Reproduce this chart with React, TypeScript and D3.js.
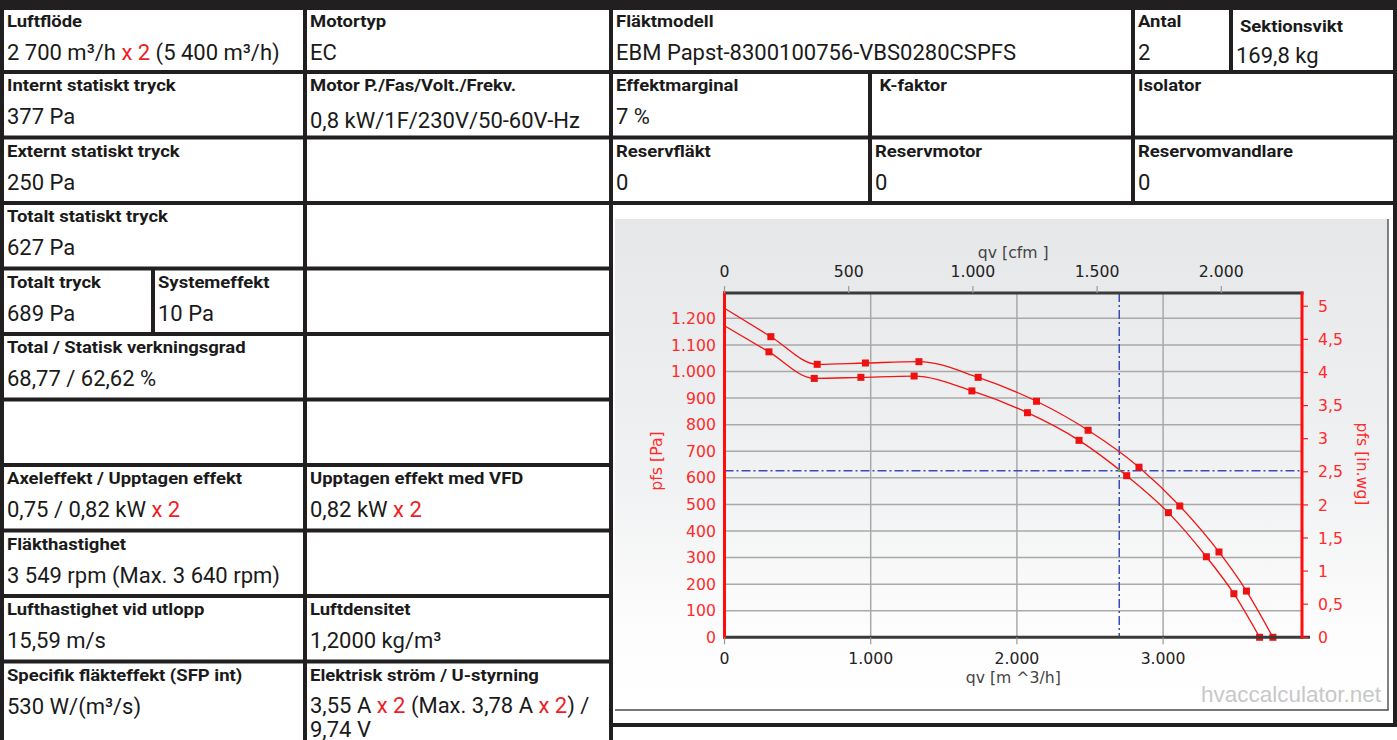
import React from "react";
import * as d3 from "d3";

// ---------------- data ----------------
const qvTicks = [0, 1000, 2000, 3000];
const cfmTicks = [0, 500, 1000, 1500, 2000];
const paTicks = [0, 100, 200, 300, 400, 500, 600, 700, 800, 900, 1000, 1100, 1200];
const inwgTicks = [0, 0.5, 1, 1.5, 2, 2.5, 3, 3.5, 4, 4.5, 5];

const upperStart: [number, number] = [0, 1238];
const upperMarkers: [number, number][] = [
  [317, 1131], [634, 1027], [964, 1032], [1330, 1037], [1735, 978], [2134, 888],
  [2487, 779], [2835, 640], [3114, 494], [3382, 321], [3570, 174], [3751, 0],
];
const lowerStart: [number, number] = [0, 1172];
const lowerMarkers: [number, number][] = [
  [304, 1074], [614, 974], [933, 978], [1297, 983], [1692, 927], [2072, 845],
  [2425, 741], [2751, 608], [3036, 469], [3296, 303], [3484, 164], [3660, 0],
];
const operatingPoint: [number, number] = [2700, 627];
const M3H_PER_CFM = 1.699;
const PA_PER_INWG = 249.089;

// table content: [fromCol, toCol, label, value]  (|...| = red)
type Cell = [string, string, string, string];
const row0: Cell[] = [
  ["a", "c", "Luftflöde", "2 700 m³/h |x 2| (5 400 m³/h)"],
  ["c", "d", "Motortyp", "EC"],
  ["d", "f", "Fläktmodell", "EBM Papst-8300100756-VBS0280CSPFS"],
  ["f", "g", "Antal", "2"],
  ["g", "h", "Sektionsvikt", "169,8 kg"],
];
const row1: Cell[] = [
  ["a", "c", "Internt statiskt tryck", "377 Pa"],
  ["c", "d", "Motor P./Fas/Volt./Frekv.", "0,8 kW/1F/230V/50-60V-Hz"],
  ["d", "e", "Effektmarginal", "7 %"],
  ["e", "f", " K-faktor", ""],
  ["f", "h", "Isolator", ""],
];
const row2: Cell[] = [
  ["a", "c", "Externt statiskt tryck", "250 Pa"],
  ["c", "d", "", ""],
  ["d", "e", "Reservfläkt", "0"],
  ["e", "f", "Reservmotor", "0"],
  ["f", "h", "Reservomvandlare", "0"],
];
const row3: Cell[] = [["a", "c", "Totalt statiskt tryck", "627 Pa"], ["c", "d", "", ""]];
const row4: Cell[] = [["a", "b", "Totalt tryck", "689 Pa"], ["b", "c", "Systemeffekt", "10 Pa"], ["c", "d", "", ""]];
const row5: Cell[] = [["a", "c", "Total / Statisk verkningsgrad", "68,77 / 62,62 %"], ["c", "d", "", ""]];
const row6: Cell[] = [["a", "c", "", ""], ["c", "d", "", ""]];
const row7: Cell[] = [
  ["a", "c", "Axeleffekt / Upptagen effekt", "0,75 / 0,82 kW |x 2|"],
  ["c", "d", "Upptagen effekt med VFD", "0,82 kW |x 2|"],
];
const row8: Cell[] = [["a", "c", "Fläkthastighet", "3 549 rpm (Max. 3 640 rpm)"], ["c", "d", "", ""]];
const row9: Cell[] = [
  ["a", "c", "Lufthastighet vid utlopp", "15,59 m/s"],
  ["c", "d", "Luftdensitet", "1,2000 kg/m³"],
];
const row10: Cell[] = [
  ["a", "c", "Specifik fläkteffekt (SFP int)", "530 W/(m³/s)"],
  ["c", "d", "Elektrisk ström / U-styrning", "3,55 A |x 2| (Max. 3,78 A |x 2|) /\n9,74 V"],
];
const tableRows = [row0, row1, row2, row3, row4, row5, row6, row7, row8, row9, row10];

// ---------------- layout ----------------
const W = 1397;
const H = 740;
const colX: Record<string, number> = { a: 2, b: 153, c: 305, d: 611, e: 870, f: 1133, g: 1231, h: 1395 };
const rowBorders = [72, 137.5, 203, 268.5, 334, 399.5, 465, 530.5, 596, 661.5];
const BORDER = "#221f20";
const RED_TXT = "#ee1c25";
const FONT = "Roboto, 'Liberation Sans', Arial, sans-serif";
const CFONT = "'DejaVu Sans', Verdana, sans-serif";

function renderValue(v: string) {
  const parts = v.split("|");
  return parts.map((p, i) => (
    <tspan key={i} fill={i % 2 === 1 ? RED_TXT : "#1a1a1a"}>{p}</tspan>
  ));
}

export default function App() {
  const x = d3.scaleLinear().domain([0, 3950]).range([724.5, 1302]);
  const y = d3.scaleLinear().domain([0, 1295]).range([637.3, 293.1]);
  const loc = d3.formatLocale({ decimal: ",", thousands: ".", grouping: [3], currency: ["", ""] });
  const fmt = loc.format(",~f");
  const line = d3
    .line<[number, number]>()
    .x((d) => x(d[0]))
    .y((d) => y(d[1]))
    .curve(d3.curveMonotoneX);

  const [x0, x1] = x.range();
  const [yB, yT] = y.range();
  const cx = (x0 + x1) / 2;

  const redLine = "#f31414";
  const redLbl = "#ff2b2b";
  const grid = "#a9a9a9";
  const blue = "#3a4bc0";

  // table rendering
  const rowTop = (r: number) => (r === 0 ? 10 : rowBorders[r - 1] + 2);
  const rowY0 = (r: number) => (r === 0 ? 0 : rowBorders[r - 1]);
  const rowY1 = (r: number) => (r === 10 ? H + 5 : rowBorders[r]);

  const tableEls: React.ReactNode[] = [];
  tableRows.forEach((cells, r) => {
    const top = rowTop(r);
    cells.forEach((cell, ci) => {
      const [from, to, label, value] = cell;
      const lx = colX[from] + 5;
      const isSekt = label === "Sektionsvikt";
      const isMotor = label.startsWith("Motor P.");
      tableEls.push(
        <line key={`vl${r}-${ci}`} x1={colX[from]} x2={colX[from]} y1={rowY0(r)} y2={rowY1(r)} stroke={BORDER} strokeWidth={4} />,
        <line key={`vr${r}-${ci}`} x1={colX[to]} x2={colX[to]} y1={rowY0(r)} y2={rowY1(r)} stroke={BORDER} strokeWidth={4} />
      );
      if (label) {
        const ly = top + 17 + (isSekt ? 5 : 0);
        tableEls.push(
          <text key={`lb${r}-${ci}`} transform={`translate(${lx + (isSekt ? 4 : 0)},${ly}) scale(1.1,1)`} fontFamily={FONT} fontWeight="bold" fontSize={16.8} fill="#1a1a1a" style={{ whiteSpace: "pre" }}>
            {label}
          </text>
        );
      }
      if (value) {
        const lines = value.split("\n");
        const multi = lines.length > 1;
        lines.forEach((ln, li) => {
          tableEls.push(
            <text key={`vv${r}-${ci}-${li}`} x={lx} y={top + (multi ? 49 : 50) + (isSekt ? 3 : 0) + (isMotor ? 4 : 0) + li * 24} fontFamily={FONT} fontSize={22} fill="#1a1a1a" style={{ whiteSpace: "pre" }}>
              {renderValue(ln)}
            </text>
          );
        });
      }
    });
    if (r < 10) {
      tableEls.push(
        <line key={`hb${r}`} x1={0} x2={r <= 2 ? W : colX.d + 2} y1={rowBorders[r]} y2={rowBorders[r]} stroke={BORDER} strokeWidth={4} />
      );
    }
  });

  const upper = [upperStart, ...upperMarkers];
  const lower = [lowerStart, ...lowerMarkers];

  return (
    <div style={{ position: "absolute", left: 0, top: 0 }}>
      <svg width={W} height={H} viewBox={`0 0 ${W} ${H}`} style={{ display: "block", background: "#fff" }}>
        <defs>
          <linearGradient id="panelBg" x1="0" y1="0" x2="0" y2="1">
            <stop offset="0" stopColor="#e6e7e9" />
            <stop offset="0.55" stopColor="#f1f2f3" />
            <stop offset="0.85" stopColor="#fdfdfd" />
            <stop offset="1" stopColor="#ffffff" />
          </linearGradient>
        </defs>

        {/* chart panel */}
        <rect x={615} y={219} width={773} height={491} fill="url(#panelBg)" />
        <line x1={1388} x2={1388} y1={219} y2={710} stroke="#5a5a5a" strokeWidth={1.5} />
        <line x1={615} x2={1388.7} y1={710} y2={710} stroke="#4a4a4a" strokeWidth={1.5} />

        {/* gridlines */}
        {paTicks.filter((t) => t > 0).map((t) => (
          <line key={`gh${t}`} x1={x0} x2={x1} y1={y(t)} y2={y(t)} stroke={grid} strokeWidth={1.5} />
        ))}
        {qvTicks.filter((t) => t > 0).map((t) => (
          <line key={`gv${t}`} x1={x(t)} x2={x(t)} y1={yT} y2={yB} stroke={grid} strokeWidth={1.5} />
        ))}

        {/* operating point lines */}
        <line x1={x0} x2={x1} y1={y(operatingPoint[1])} y2={y(operatingPoint[1])} stroke={blue} strokeWidth={1.5} strokeDasharray="9,3,2,3" />
        <line x1={x(operatingPoint[0])} x2={x(operatingPoint[0])} y1={yT} y2={yB} stroke={blue} strokeWidth={1.5} strokeDasharray="9,3,2,3" />

        {/* curves */}
        <path d={line(upper) || ""} fill="none" stroke={redLine} strokeWidth={1.3} />
        <path d={line(lower) || ""} fill="none" stroke={redLine} strokeWidth={1.3} />
        {[...upperMarkers, ...lowerMarkers].map((d, i) => (
          <rect key={`m${i}`} x={x(d[0]) - 3.5} y={y(d[1]) - 3.5} width={7} height={7} fill="#ee1111" />
        ))}
        <circle cx={x(operatingPoint[0])} cy={y(operatingPoint[1])} r={1.3} fill="#3cc43c" />

        {/* axes */}
        <line x1={x0 - 1.5} x2={x1 + 1.5} y1={yT} y2={yT} stroke="#3a3a3a" strokeWidth={3} />
        <line x1={x0 - 1.5} x2={x1 + 8} y1={yB} y2={yB} stroke="#3a3a3a" strokeWidth={3} />
        <line x1={x0} x2={x0} y1={yT - 1.5} y2={yB + 1.5} stroke="#ff0d0d" strokeWidth={3} />
        <line x1={x1} x2={x1} y1={yT - 1.5} y2={yB + 1.5} stroke="#ff0d0d" strokeWidth={3} />

        {/* top cfm axis */}
        {cfmTicks.map((t) => {
          const px = x(t * M3H_PER_CFM);
          return (
            <g key={`cfm${t}`}>
              <line x1={px} x2={px} y1={yT - 7} y2={yT} stroke="#999" strokeWidth={1.2} />
              <text x={px} y={276.5} textAnchor="middle" fontFamily={CFONT} fontSize={15.7} fill="#222">{fmt(t)}</text>
            </g>
          );
        })}
        <text x={cx} y={258} textAnchor="middle" fontFamily={CFONT} fontSize={15.7} fill="#444" style={{ whiteSpace: "pre" }}>qv [cfm ]</text>

        {/* bottom qv axis */}
        {qvTicks.map((t) => (
          <g key={`qv${t}`}>
            <line x1={x(t)} x2={x(t)} y1={yB} y2={yB + 7} stroke="#999" strokeWidth={1.2} />
            <text x={x(t)} y={664} textAnchor="middle" fontFamily={CFONT} fontSize={15.7} fill="#222">{fmt(t)}</text>
          </g>
        ))}
        <text x={cx} y={683} textAnchor="middle" fontFamily={CFONT} fontSize={15.7} fill="#444" style={{ whiteSpace: "pre" }}>qv [m ^3/h]</text>

        {/* left Pa axis */}
        {paTicks.map((t) => (
          <text key={`pa${t}`} x={716} y={y(t)} dy="0.36em" textAnchor="end" fontFamily={CFONT} fontSize={15.7} fill={redLbl}>{fmt(t)}</text>
        ))}
        <text transform={`translate(662,461) rotate(-90)`} textAnchor="middle" fontFamily={CFONT} fontSize={15.7} fill={redLbl}>pfs [Pa]</text>

        {/* right in.wg axis */}
        {inwgTicks.map((t) => {
          const py = y(t * PA_PER_INWG);
          return (
            <g key={`iw${t}`}>
              <line x1={x1} x2={x1 + 6} y1={py} y2={py} stroke="#ff1a1a" strokeWidth={1.2} />
              <text x={1318} y={py} dy="0.36em" fontFamily={CFONT} fontSize={15.7} fill={redLbl}>{fmt(t)}</text>
            </g>
          );
        })}
        <text transform={`translate(1357,464) rotate(90)`} textAnchor="middle" fontFamily={CFONT} fontSize={15.7} fill={redLbl}>pfs [in.wg]</text>

        {/* watermark */}
        <text x={1381} y={702} textAnchor="end" fontFamily="'Liberation Sans', Arial, sans-serif" fontSize={22.5} fill="#c8c8c8">hvaccalculator.net</text>

        {/* table */}
        <rect x={0} y={0} width={W} height={10} fill={BORDER} />
        {tableEls}
        <line x1={colX.h} x2={colX.h} y1={rowBorders[2]} y2={727} stroke={BORDER} strokeWidth={4} />
        <line x1={colX.d - 2} x2={W} y1={725} y2={725} stroke={BORDER} strokeWidth={4} />
      </svg>
    </div>
  );
}
